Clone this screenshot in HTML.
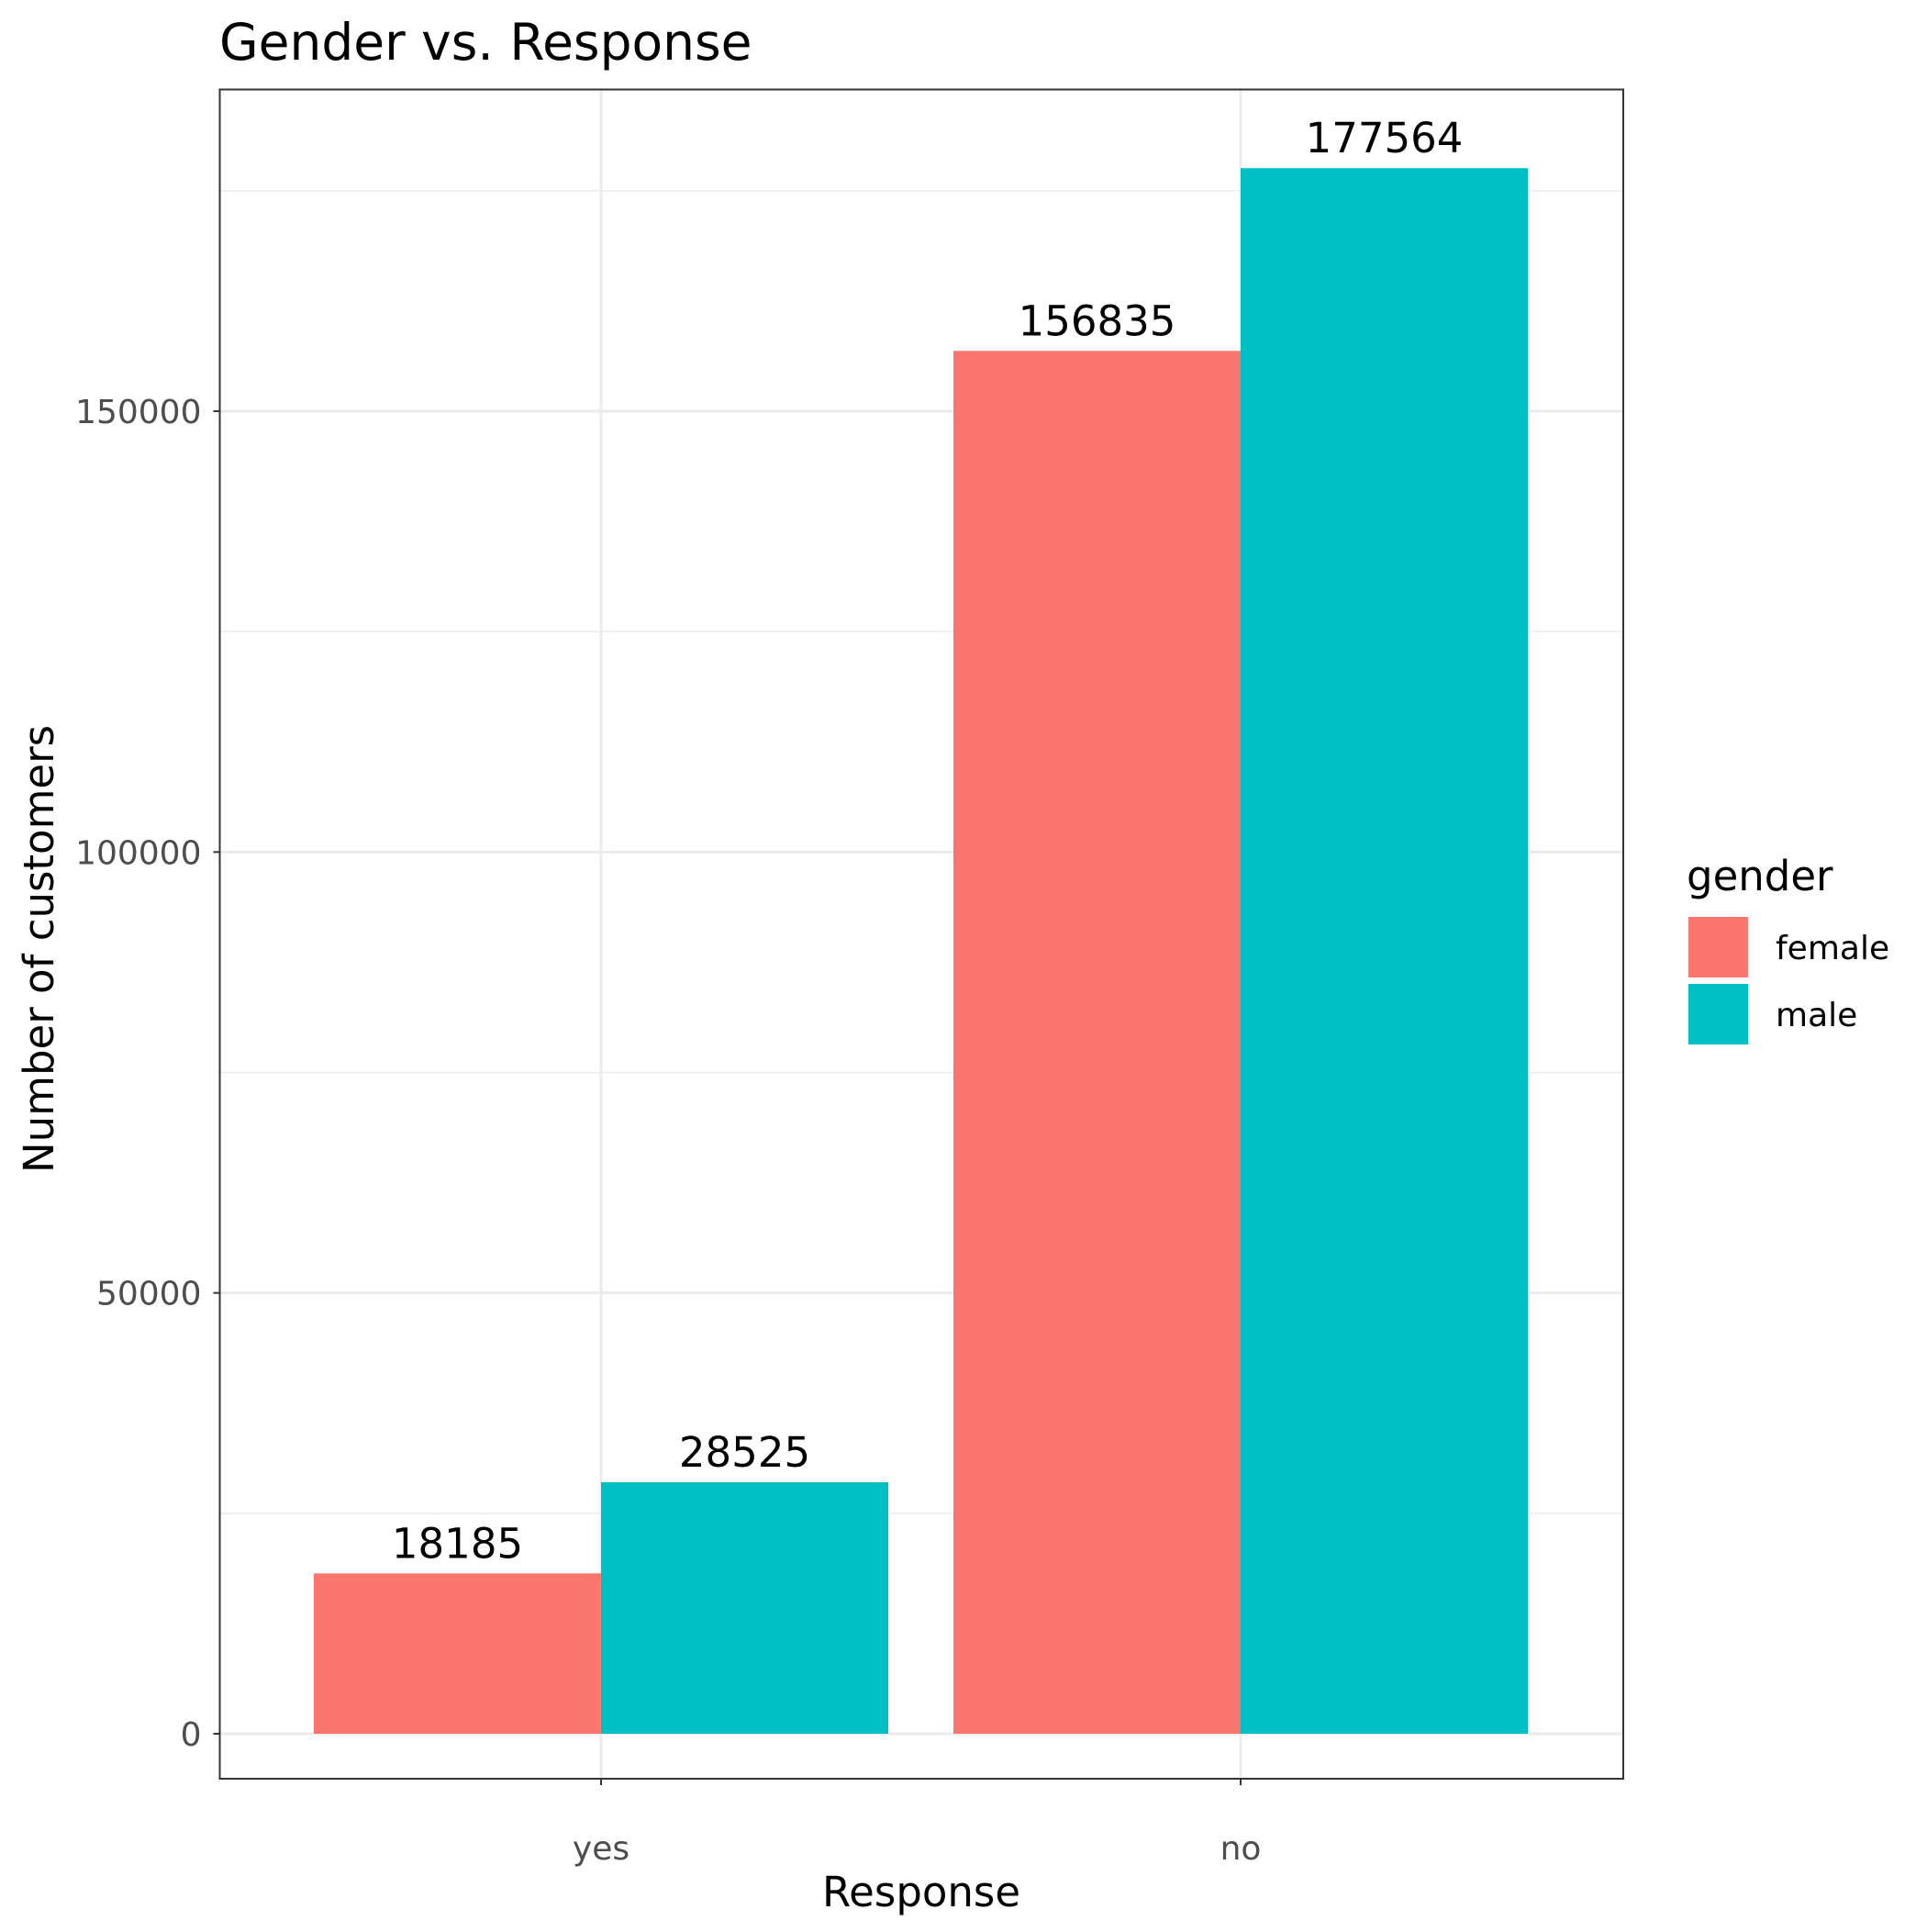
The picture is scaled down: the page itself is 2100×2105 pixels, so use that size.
<!DOCTYPE html>
<html><head><meta charset="utf-8"><style>
html,body{margin:0;padding:0;background:#fff}
svg text{font-family:"DejaVu Sans","Liberation Sans",sans-serif}
</style></head><body>
<svg id="chart" width="2100" height="2100" viewBox="0 0 2100 2100" xmlns="http://www.w3.org/2000/svg">
<rect width="2100" height="2100" fill="#fff"/>
<g id="grid"></g>
<g id="bars"></g>
<g id="axes"></g>
<text x="239" y="65" font-size="55" fill="#000">Gender vs. Response</text>
<text x="1004" y="2077" font-size="45" text-anchor="middle" fill="#000">Response</text>
<text transform="translate(58,1034) rotate(-90)" font-size="45" text-anchor="middle" fill="#000">Number of customers</text>
<g>
<text x="1838" y="970" font-size="45" fill="#000">gender</text>
<rect x="1840" y="999" width="65" height="66" fill="#F8766D"/>
<text x="1935" y="1045" font-size="36" fill="#000">female</text>
<rect x="1840" y="1072" width="65" height="66" fill="#00BFC4"/>
<text x="1935" y="1118" font-size="36" fill="#000">male</text>
</g>
</svg>
<script>
const categories = ["yes", "no"];
const femaleValues = [18185, 156835];
const maleValues = [28525, 177564];
const yTicks = [0, 50000, 100000, 150000];
const yMinor = [25000, 75000, 125000, 175000];

const NS = "http://www.w3.org/2000/svg";
const panel = {l: 239.5, t: 97.5, r: 1769, b: 1938};
const y0px = 1889, pxPerUnit = 1441 / 150000;
function yScale(v){ return y0px - v * pxPerUnit; }
const catCenters = [655, 1352];
function xScale(i){ return catCenters[0] + i * (catCenters[1] - catCenters[0]); }
const barW = 313;

function mk(tag, attrs, parent){
  const e = document.createElementNS(NS, tag);
  for (const k in attrs) e.setAttribute(k, attrs[k]);
  parent.appendChild(e);
  return e;
}
const grid = document.getElementById('grid');
const bars = document.getElementById('bars');
const axes = document.getElementById('axes');

yMinor.forEach(v => {
  const l = mk('line', {x1: panel.l, x2: panel.r, y1: yScale(v), y2: yScale(v), stroke: '#ebebeb', 'stroke-width': 1.5}, grid);
  
  
});
yTicks.forEach(v => {
  const y = yScale(v);
  const l = mk('line', {x1: panel.l, x2: panel.r, y1: y, y2: y, stroke: '#ebebeb', 'stroke-width': 3}, grid);
  
  
  const t = mk('line', {x1: panel.l - 7, x2: panel.l, y1: y, y2: y, stroke: '#333', 'stroke-width': 2}, axes);
  
  
  const tx = mk('text', {x: panel.l - 20, y: y + 13, 'font-size': 36, 'text-anchor': 'end', fill: '#4d4d4d'}, axes);
  tx.textContent = v;
  
  
});
categories.forEach((c, i) => {
  const x = xScale(i);
  const l = mk('line', {x1: x, x2: x, y1: panel.t, y2: panel.b, stroke: '#ebebeb', 'stroke-width': 3}, grid);
  
  
  const t = mk('line', {x1: x, x2: x, y1: panel.b, y2: panel.b + 7, stroke: '#333', 'stroke-width': 2}, axes);
  
  
  const tx = mk('text', {x: x, y: panel.b + 88, 'font-size': 36, 'text-anchor': 'middle', fill: '#4d4d4d'}, axes);
  tx.textContent = c;
  
  
  [[femaleValues[i], '#F8766D', x - barW, 'female'], [maleValues[i], '#00BFC4', x, 'male']].forEach(([v, col, bx, g]) => {
    const r = mk('rect', {x: bx, y: yScale(v), width: barW, height: y0px - yScale(v), fill: col}, bars);
    
    
    const lb = mk('text', {x: bx + barW / 2, y: yScale(v) - 17, 'font-size': 45, 'text-anchor': 'middle', fill: '#000'}, bars);
    lb.textContent = v;
    
    
  });
});
const border = mk('rect', {x: panel.l, y: panel.t, width: panel.r - panel.l, height: panel.b - panel.t, fill: 'none', stroke: '#333', 'stroke-width': 2}, axes);


</script>
</body></html>
